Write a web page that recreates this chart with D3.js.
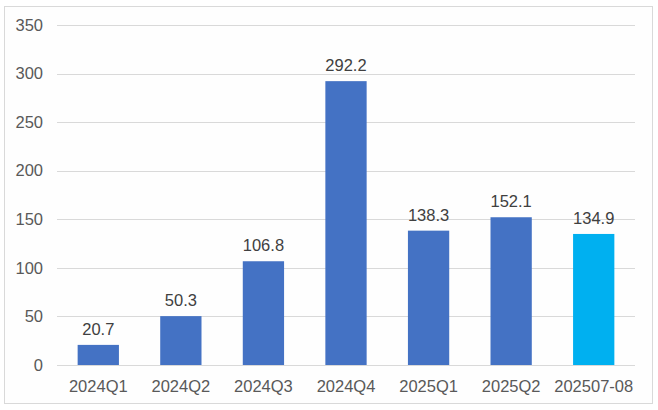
<!DOCTYPE html>
<html><head><meta charset="utf-8">
<script src="https://cdn.jsdelivr.net/npm/d3@7"></script>
<style>html,body{margin:0;padding:0;background:#fff;}</style>
</head><body>
<svg id="c" width="658" height="410"></svg>
<script>
const categories = ["2024Q1","2024Q2","2024Q3","2024Q4","2025Q1","2025Q2","202507-08"];
const values = [20.7, 50.3, 106.8, 292.2, 138.3, 152.1, 134.9];
const barColors = ["#4472C4","#4472C4","#4472C4","#4472C4","#4472C4","#4472C4","#00B0F0"];
const yTicks = [0,50,100,150,200,250,300,350];

(function(){
const svg = d3.select("#c");
const font = "'Liberation Sans', Arial, sans-serif";
svg.append("rect").attr("x",4.5).attr("y",6.5).attr("width",648).attr("height",397)
  .attr("fill","#fefefe").attr("stroke","#d9d9d9").attr("stroke-width",1);

const pl = 57, pr = 635, pt = 25, pb = 365;
const x = d3.scaleBand().domain(categories).range([pl,pr]).paddingInner(0.5).paddingOuter(0.25);
const y = d3.scaleLinear().domain([0,350]).range([pb,pt]);

const g = svg.append("g");
g.selectAll("line.grid").data(yTicks).enter().append("line")
  .attr("x1",pl).attr("x2",pr)
  .attr("y1",d=>Math.round(y(d))+0.5).attr("y2",d=>Math.round(y(d))+0.5)
  .attr("stroke","#d9d9d9").attr("stroke-width",1);

const yAxis = d3.axisLeft(y).tickValues(yTicks).tickSize(0).tickPadding(0);
const ya = svg.append("g").attr("transform",`translate(43,0)`).call(yAxis);
ya.select(".domain").remove();
ya.selectAll("text").attr("font-family",font).attr("font-size",16.5).attr("fill","#595959");

g.selectAll("rect.bar").data(values).enter().append("rect")
  .attr("x",(d,i)=>x(categories[i])).attr("width",x.bandwidth())
  .attr("y",d=>y(d)).attr("height",d=>pb-y(d))
  .attr("fill",(d,i)=>barColors[i]);

g.selectAll("text.lbl").data(values).enter().append("text")
  .attr("x",(d,i)=>x(categories[i])+x.bandwidth()/2)
  .attr("y",d=>y(d)-10)
  .attr("text-anchor","middle").attr("font-family",font).attr("font-size",16.5).attr("fill","#404040")
  .text(d=>d.toFixed(1));

const xAxis = d3.axisBottom(x).tickSize(0).tickPadding(0);
const xa = svg.append("g").attr("transform",`translate(0,${pb})`).call(xAxis);
xa.select(".domain").remove();
xa.selectAll("text").attr("font-family",font).attr("font-size",16.5).attr("fill","#595959")
  .attr("dy",null).attr("y",27);
})();
</script>
</body></html>
